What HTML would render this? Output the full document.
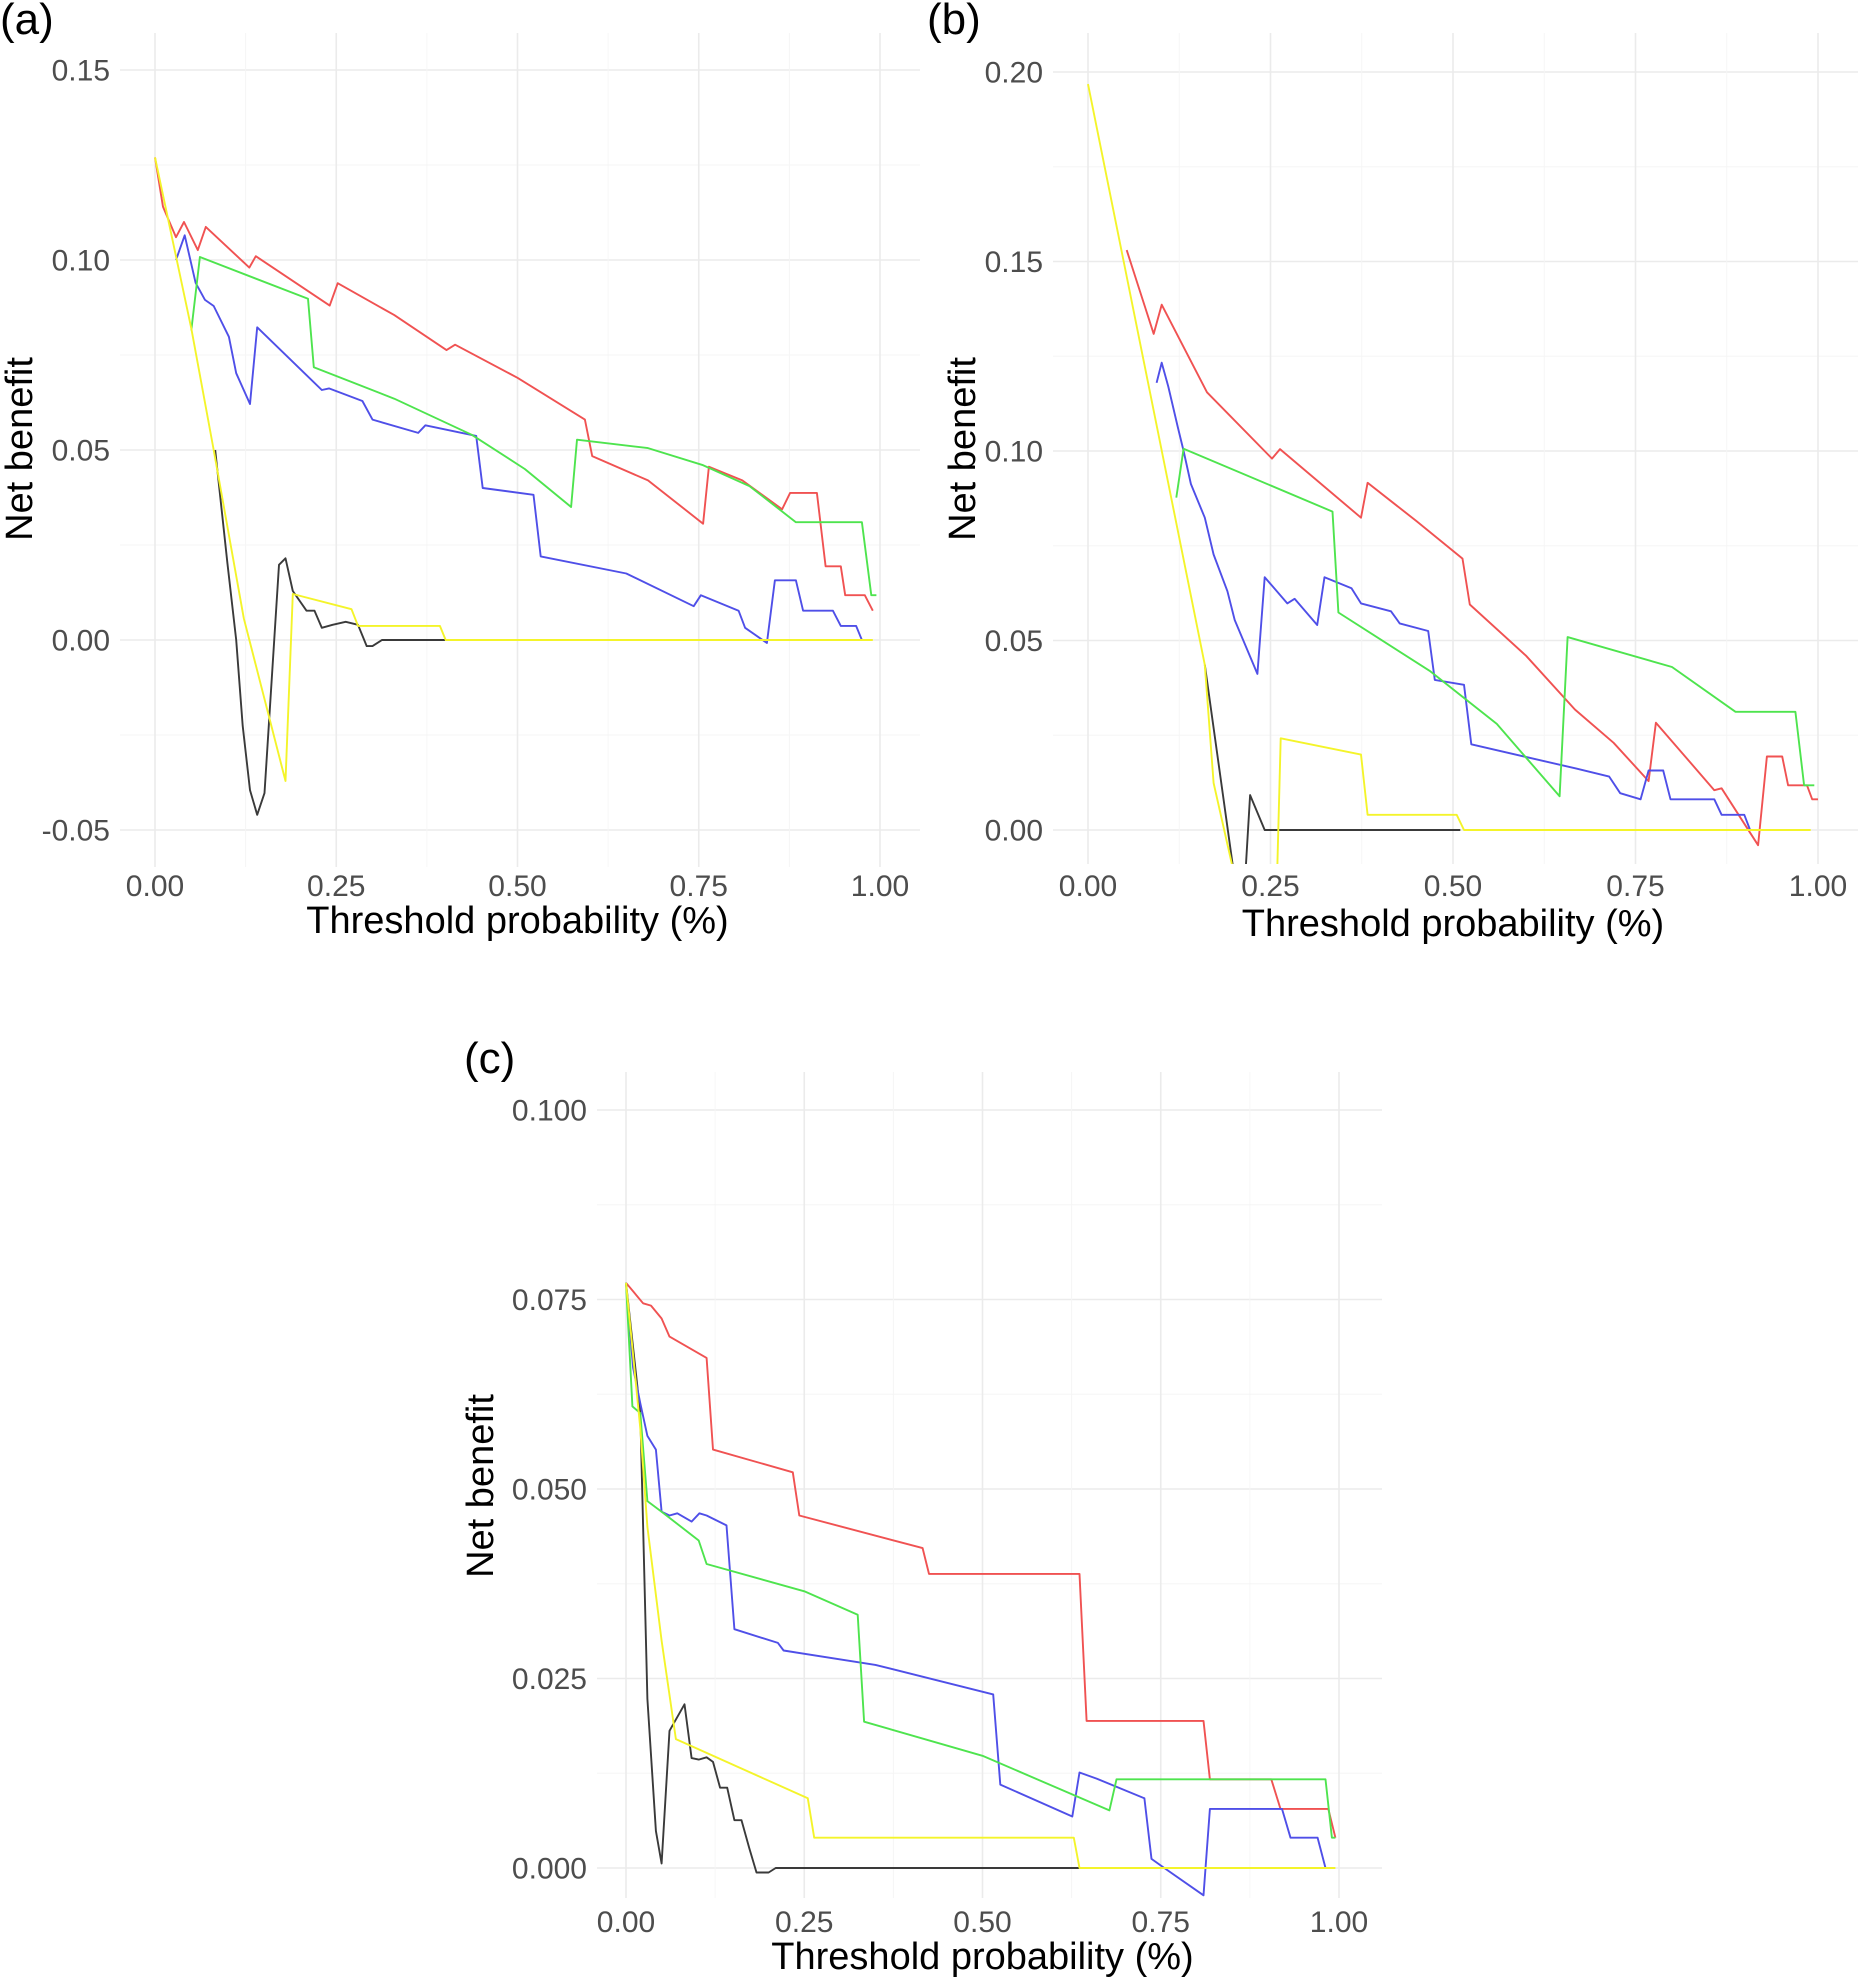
<!DOCTYPE html>
<html><head><meta charset="utf-8"><style>
html,body{margin:0;padding:0;background:#fff;}
svg{display:block;font-family:"Liberation Sans",Arial,sans-serif;}
</style></head><body>
<svg id="fig" width="1858" height="1986" viewBox="0 0 1858 1986" xmlns="http://www.w3.org/2000/svg"></svg>
<script>
// ---- Panel (a) data ----
const aRedX=[0,0.011,0.029,0.04,0.059,0.07,0.13,0.139,0.241,0.252,0.33,0.402,0.414,0.5,0.593,0.603,0.68,0.756,0.764,0.81,0.865,0.876,0.913,0.925,0.946,0.952,0.979,0.99];
const aRedY=[0.127,0.114,0.106,0.11,0.1026,0.1087,0.098,0.101,0.088,0.0939,0.0855,0.0763,0.0777,0.069,0.058,0.0484,0.042,0.0306,0.0456,0.042,0.0344,0.0387,0.0387,0.0194,0.0194,0.0118,0.0118,0.0077];
const aGreenX=[0.05,0.062,0.211,0.219,0.33,0.437,0.51,0.574,0.582,0.68,0.756,0.82,0.884,0.975,0.988,0.995];
const aGreenY=[0.0815,0.1008,0.0898,0.0718,0.0635,0.054,0.045,0.035,0.0527,0.0505,0.046,0.0405,0.031,0.031,0.0118,0.0118];
const aBlueX=[0.029,0.041,0.056,0.069,0.081,0.102,0.112,0.131,0.141,0.23,0.24,0.286,0.3,0.363,0.373,0.443,0.452,0.522,0.532,0.65,0.743,0.753,0.805,0.814,0.844,0.855,0.884,0.894,0.935,0.946,0.967,0.975];
const aBlueY=[0.1,0.1065,0.094,0.0895,0.0879,0.0798,0.0702,0.0621,0.0823,0.0658,0.0662,0.0629,0.058,0.0545,0.0565,0.0537,0.04,0.0382,0.022,0.0175,0.0089,0.0118,0.0077,0.0032,-0.0008,0.0157,0.0157,0.0077,0.0077,0.0037,0.0037,0];
const aYellowX=[0,0.05,0.081,0.1225,0.18,0.19,0.271,0.28,0.393,0.401,0.99];
const aYellowY=[0.127,0.082,0.05,0.0057,-0.0371,0.0121,0.0081,0.0037,0.0037,0,0];
const aBlackX=[0.083,0.1,0.112,0.121,0.131,0.141,0.151,0.171,0.18,0.19,0.209,0.22,0.23,0.245,0.263,0.28,0.292,0.3,0.313,0.4];
const aBlackY=[0.05,0.02,0,-0.0226,-0.0395,-0.046,-0.0403,0.0198,0.0215,0.0129,0.0077,0.0077,0.0032,0.004,0.0048,0.004,-0.0016,-0.0016,0,0];
// ---- Panel (b) data ----
const bRedX=[0.053,0.09,0.101,0.163,0.252,0.263,0.374,0.383,0.45,0.513,0.523,0.6,0.667,0.72,0.768,0.778,0.858,0.868,0.918,0.93,0.951,0.959,0.985,0.992,1.0];
const bRedY=[0.153,0.1309,0.1386,0.1155,0.098,0.1005,0.0824,0.0916,0.0815,0.0716,0.0595,0.046,0.0318,0.023,0.0129,0.0283,0.0105,0.011,-0.004,0.0194,0.0194,0.0118,0.0118,0.0081,0.0081];
const bGreenX=[0.121,0.131,0.335,0.343,0.468,0.56,0.646,0.657,0.8,0.887,0.969,0.981,0.995];
const bGreenY=[0.0877,0.1006,0.084,0.0574,0.042,0.028,0.0089,0.0509,0.043,0.0312,0.0312,0.0118,0.0118];
const bBlueX=[0.094,0.101,0.11,0.123,0.131,0.141,0.16,0.172,0.191,0.201,0.232,0.242,0.273,0.283,0.314,0.324,0.361,0.374,0.415,0.427,0.466,0.475,0.515,0.525,0.669,0.714,0.729,0.757,0.768,0.788,0.798,0.858,0.868,0.899,0.907];
const bBlueY=[0.118,0.1233,0.117,0.1063,0.1,0.0913,0.0824,0.0727,0.063,0.0554,0.0412,0.0667,0.0598,0.061,0.0541,0.0667,0.0638,0.0598,0.0577,0.0545,0.0525,0.0396,0.0383,0.0226,0.0162,0.0141,0.0097,0.0081,0.0157,0.0157,0.0081,0.0081,0.004,0.004,0];
const bYellowX=[0,0.16,0.172,0.21,0.258,0.264,0.374,0.383,0.505,0.515,0.99];
const bYellowY=[0.1968,0.0436,0.0124,-0.02,-0.02,0.0242,0.0199,0.004,0.004,0,0];
const bBlackX=[0.16,0.206,0.213,0.222,0.242,0.51];
const bBlackY=[0.0436,-0.02,-0.02,0.0092,0,0];
// ---- Panel (c) data ----
const cRedX=[0,0.024,0.035,0.05,0.061,0.113,0.122,0.234,0.243,0.416,0.425,0.636,0.646,0.81,0.819,0.905,0.918,0.985,0.995];
const cRedY=[0.0772,0.0745,0.0742,0.0725,0.0701,0.0673,0.0552,0.0522,0.0465,0.0422,0.0388,0.0388,0.0194,0.0194,0.0117,0.0117,0.0078,0.0078,0.004];
const cGreenX=[0,0.009,0.02,0.03,0.05,0.102,0.113,0.25,0.325,0.334,0.5,0.678,0.688,0.981,0.99,0.995];
const cGreenY=[0.0772,0.0609,0.06,0.0484,0.047,0.0432,0.0401,0.0365,0.0334,0.0193,0.0148,0.0076,0.0117,0.0117,0.004,0.004];
const cBlueX=[0,0.01,0.02,0.03,0.042,0.05,0.061,0.072,0.092,0.103,0.113,0.141,0.152,0.213,0.221,0.35,0.515,0.525,0.626,0.636,0.66,0.727,0.737,0.755,0.81,0.819,0.92,0.932,0.97,0.981];
const cBlueY=[0.0772,0.066,0.0613,0.057,0.0552,0.047,0.0465,0.0468,0.0457,0.0468,0.0465,0.0452,0.0315,0.0297,0.0287,0.0268,0.0229,0.011,0.0068,0.0126,0.0118,0.0092,0.0012,0,-0.0036,0.0078,0.0078,0.004,0.004,0];
const cYellowX=[0,0.02,0.03,0.05,0.07,0.255,0.264,0.628,0.636,0.995];
const cYellowY=[0.0772,0.058,0.045,0.03,0.017,0.0092,0.004,0.004,0,0];
const cBlackX=[0,0.02,0.03,0.042,0.05,0.061,0.082,0.092,0.102,0.113,0.122,0.132,0.142,0.152,0.162,0.173,0.183,0.2,0.21,0.636];
const cBlackY=[0.0772,0.06,0.0223,0.0049,0.0006,0.0181,0.0216,0.0145,0.0143,0.0146,0.014,0.0106,0.0106,0.0063,0.0063,0.0026,-0.0006,-0.0006,0,0];
// tick labels
const aYTicks=[-0.05,0,0.05,0.1,0.15];
const aYLabels=["-0.05","0.00","0.05","0.10","0.15"];
const bYTicks=[0,0.05,0.1,0.15,0.2];
const bYLabels=["0.00","0.05","0.10","0.15","0.20"];
const cYTicks=[0,0.025,0.05,0.075,0.1];
const cYLabels=["0.000","0.025","0.050","0.075","0.100"];
const xTicks=[0,0.25,0.5,0.75,1];
const xLabels=["0.00","0.25","0.50","0.75","1.00"];

const NS="http://www.w3.org/2000/svg";
const svg=document.getElementById('fig');
function mk(tag,attrs,parent){const e=document.createElementNS(NS,tag);for(const k in attrs)e.setAttribute(k,attrs[k]);(parent||svg).appendChild(e);return e;}

function panel(p){
  const g=mk('g',{});
  
  
  const sx=v=>p.x0+(p.x1-p.x0)*v;
  const sy=v=>p.yZero-(p.yZero-p.yRef)*v/p.refVal;
  const gy=(p.yZero-p.yRef)/p.refVal;
  const yMin=(p.yZero-p.bottom)/gy, yMax=(p.yZero-p.top)/gy;
  const step=p.yTicks[1]-p.yTicks[0];
  for(let v=p.yTicks[0]-step/2; v<=yMax; v+=step/2){
    if(v<yMin-1e-9) continue;
    const major=p.yTicks.some(t=>Math.abs(t-v)<1e-9);
    const l=mk('line',{x1:p.left,x2:p.right,y1:sy(v),y2:sy(v),stroke:major?'#ebebeb':'#f5f5f5','stroke-width':major?1.6:0.9},g);
    
    
  }
  for(let v=0; v<=1.0001; v+=0.125){
    const major=Math.abs(v*4-Math.round(v*4))<1e-9;
    const l=mk('line',{x1:sx(v),x2:sx(v),y1:p.top,y2:p.bottom,stroke:major?'#ebebeb':'#f5f5f5','stroke-width':major?1.6:0.9},g);
    
    
  }
  p.yTicks.forEach((t,i)=>{
    const tx=mk('text',{x:p.left-10,y:sy(t)+10.5,'text-anchor':'end','font-size':30,fill:'#4d4d4d'},g);
    tx.textContent=p.yLabels[i];
    
    
  });
  xTicks.forEach((t,i)=>{
    const tx=mk('text',{x:sx(t),y:p.bottom+p.xlabOff,'text-anchor':'middle','font-size':30,fill:'#4d4d4d'},g);
    tx.textContent=xLabels[i];
    
    
  });
  const xt=mk('text',{x:(p.x0+p.x1)/2,y:p.bottom+p.titleOff,'text-anchor':'middle','font-size':38,fill:'#000'},g);
  xt.textContent='Threshold probability (%)';
  
  
  const yt=mk('text',{x:0,y:0,'text-anchor':'middle','font-size':38,fill:'#000',transform:`translate(${p.ylabX},${p.ylabY}) rotate(-90)`},g);
  yt.textContent='Net benefit';
  
  
  const lab=mk('text',{x:p.tagX,y:p.tagY,'font-size':44,fill:'#000'},g);
  lab.textContent='('+p.id+')';
  
  
  const cp=mk('clipPath',{id:'clip-'+p.id},g);
  mk('rect',{x:p.left,y:p.top,width:p.right-p.left,height:p.bottom-p.top},cp);
  const lg=mk('g',{'clip-path':'url(#clip-'+p.id+')'},g);
  p.series.forEach(s=>{
    const d=s.x.map((v,i)=>(i?'L':'M')+sx(v).toFixed(1)+' '+sy(s.y[i]).toFixed(1)).join(' ');
    const path=mk('path',{d:d,fill:'none',stroke:s.color,'stroke-width':1.9,'stroke-linejoin':'round'},lg);
    
    
  });
}

panel({id:'a',x0:155,x1:880,yZero:640,yRef:260,refVal:0.1,left:120,right:920,top:33,bottom:867,xlabOff:29,titleOff:66,
  yTicks:aYTicks,yLabels:aYLabels,ylabX:32,ylabY:449,tagX:0,tagY:34,
  series:[{name:'black-line',color:'#3a3a3a',x:aBlackX,y:aBlackY},{name:'red-line',color:'#f05252',x:aRedX,y:aRedY},
  {name:'blue-line',color:'#4f4fe8',x:aBlueX,y:aBlueY},{name:'green-line',color:'#4ee44e',x:aGreenX,y:aGreenY},
  {name:'yellow-line',color:'#f4f42a',x:aYellowX,y:aYellowY}]});
panel({id:'b',x0:1088,x1:1818,yZero:830,yRef:451,refVal:0.1,left:1053,right:1858,top:33,bottom:864,xlabOff:32,titleOff:72,
  yTicks:bYTicks,yLabels:bYLabels,ylabX:975,ylabY:449,tagX:927,tagY:34,
  series:[{name:'black-line',color:'#3a3a3a',x:bBlackX,y:bBlackY},{name:'red-line',color:'#f05252',x:bRedX,y:bRedY},
  {name:'blue-line',color:'#4f4fe8',x:bBlueX,y:bBlueY},{name:'green-line',color:'#4ee44e',x:bGreenX,y:bGreenY},
  {name:'yellow-line',color:'#f4f42a',x:bYellowX,y:bYellowY}]});
panel({id:'c',x0:626,x1:1339,yZero:1868,yRef:1110,refVal:0.1,left:597,right:1382,top:1072,bottom:1898,xlabOff:34,titleOff:71,
  yTicks:cYTicks,yLabels:cYLabels,ylabX:493,ylabY:1486,tagX:464,tagY:1073,
  series:[{name:'black-line',color:'#3a3a3a',x:cBlackX,y:cBlackY},{name:'red-line',color:'#f05252',x:cRedX,y:cRedY},
  {name:'blue-line',color:'#4f4fe8',x:cBlueX,y:cBlueY},{name:'green-line',color:'#4ee44e',x:cGreenX,y:cGreenY},
  {name:'yellow-line',color:'#f4f42a',x:cYellowX,y:cYellowY}]});
</script>
</body></html>
